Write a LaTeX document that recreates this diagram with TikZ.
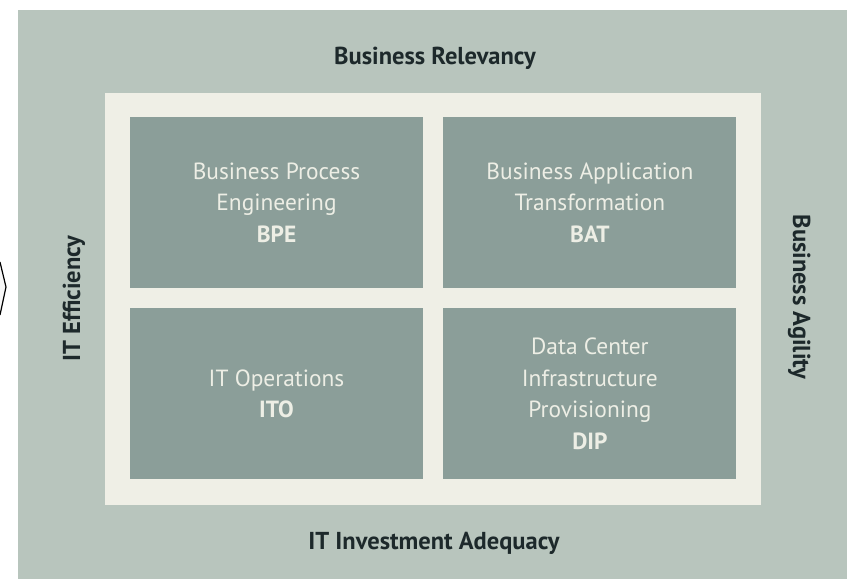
\documentclass[tikz,border=0pt]{standalone}
\usepackage{fontspec}
\setmainfont{PT Sans}
\usetikzlibrary{positioning}
\definecolor{panelgreen}{HTML}{B8C5BD}
\definecolor{framecream}{HTML}{EFEFE6}
\definecolor{boxgreen}{HTML}{8B9E99}
\definecolor{boxtext}{HTML}{EDEEE5}
\definecolor{labeltext}{HTML}{1D292B}
\tikzstyle{quadrant}=[fill=boxgreen,text=boxtext,minimum width=293pt,minimum height=171pt,inner sep=0pt,align=center,font=\fontsize{23.4}{31.5}\selectfont]
\tikzstyle{axislabel}=[text=labeltext,inner sep=0pt,anchor=base,font=\bfseries\fontsize{24.5}{28}\selectfont]
\newcommand{\quadtext}[2]{#1\\\textbf{#2}}

\begin{document}
\begin{tikzpicture}[x=1pt,y=-1pt]
  \useasboundingbox (0,0) rectangle (847,579);
  % panel and frame
  \fill[panelgreen] (18,10) rectangle (847,579);
  \fill[framecream] (105,93) rectangle (761,505);
  \draw[line width=1.2pt,fill=gray!6] (0,262) -- (6,287) -- (0,315);
  % quadrants
  \node[quadrant] (bpe) at (276.5,202.5) {\quadtext{Business Process\\Engineering}{BPE}};
  \node[quadrant,right=20pt of bpe] (bat) {\quadtext{Business Application\\Transformation}{BAT}};
  \node[quadrant,below=20pt of bpe] (ito) {\quadtext{IT Operations}{ITO}};
  \node[quadrant,below=20pt of bat] (dip) {\quadtext{Data Center\\Infrastructure\\Provisioning}{DIP}};
  % axis labels
  \node[axislabel] (relevancy) at (435,64) {Business Relevancy};
  \node[axislabel] (adequacy) at (434,549) {IT Investment Adequacy};
  \node[axislabel,rotate=90] (efficiency) at (80,298.5) {IT Efficiency};
  \node[axislabel,rotate=-90] (agility) at (793,297) {Business Agility};
\end{tikzpicture}
\end{document}
